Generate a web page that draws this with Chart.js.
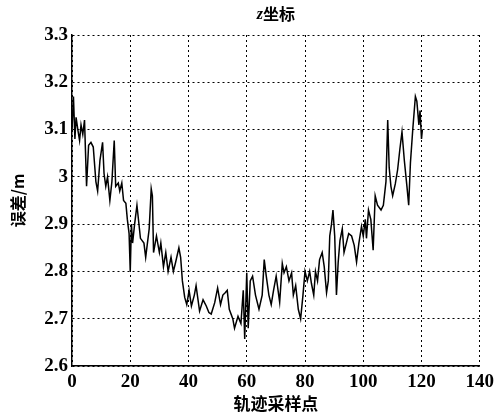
<!DOCTYPE html>
<html>
<head>
<meta charset="utf-8">
<script src="https://cdn.jsdelivr.net/npm/chart.js@4/dist/chart.umd.min.js"></script>
<style>
html,body{margin:0;padding:0;background:#fff;}
#wrap{width:499px;height:418px;}
</style>
</head>
<body>
<div id="wrap"><canvas id="c" width="499" height="418"></canvas></div>
<script>
const chartTitle = '坐标';
const chartTitleItalic = 'z';
const xAxisTitle = '轨迹采样点';
const yAxisTitle = '误差/m';
const xTicks = [0, 20, 40, 60, 80, 100, 120, 140];
const yTicks = [2.6, 2.7, 2.8, 2.9, 3.0, 3.1, 3.2, 3.3];
const yTickLabels = ['2.6', '2.7', '2.8', '2.9', '3', '3.1', '3.2', '3.3'];

const sampleX = [0,0.5,1.0,1.4,2.0,2.6,3.1,3.7,4.3,4.6,5.0,5.7,6.5,7.3,8.2,8.8,9.6,10.5,11.0,11.6,12.2,13.0,13.7,14.5,15.0,15.9,16.4,17.1,17.7,18.5,19.0,19.6,20.0,20.4,20.8,21.5,22.3,23.5,24.7,25.3,26.5,27.2,27.6,28.0,29.0,30.0,30.5,31.4,32.2,33.0,34.0,34.8,35.6,36.7,37.3,37.9,38.7,39.4,40.2,41,42,42.6,43.8,45,46.1,47,47.8,49,50,51,51.8,52.6,53.3,54,55.2,55.8,57,58,58.8,59.3,60,60.5,61.2,62,63,64.2,65.3,66,66.7,67.6,68.4,69.2,70.1,71.3,72.2,72.8,73.6,74.5,75.4,76,76.8,77.7,78.5,79.3,80,80.8,81.6,82.2,83,83.6,84.3,85,85.9,86.6,87.4,88,88.5,89.1,89.6,90.2,90.8,91.4,92,92.8,93.4,94.2,95,96,96.9,97.7,98.5,99.4,100,100.7,101.1,101.8,102.6,103.4,104.1,104.9,106.1,106.9,107.8,108.4,108.9,109.5,110.1,111,111.8,112.6,113.3,114.1,115,115.6,116.2,117,117.9,118.4,119.1,119.5,120,120.3];
const errorZ = [3.10,3.17,3.08,3.126,3.10,3.077,3.11,3.09,3.12,3.06,2.98,3.067,3.073,3.063,2.99,2.97,3.035,3.073,3.007,2.98,3.0,2.95,2.99,3.077,2.98,2.987,2.97,2.987,2.95,2.944,2.91,2.88,2.80,2.90,2.86,2.90,2.94,2.87,2.86,2.83,2.89,2.975,2.96,2.84,2.875,2.84,2.86,2.81,2.84,2.80,2.83,2.80,2.82,2.85,2.83,2.78,2.745,2.73,2.76,2.727,2.75,2.77,2.716,2.74,2.727,2.713,2.71,2.734,2.765,2.73,2.75,2.755,2.76,2.72,2.70,2.68,2.705,2.69,2.76,2.657,2.797,2.68,2.78,2.79,2.75,2.72,2.75,2.825,2.79,2.75,2.73,2.76,2.79,2.735,2.817,2.797,2.81,2.78,2.797,2.75,2.77,2.72,2.70,2.75,2.80,2.78,2.80,2.775,2.75,2.80,2.78,2.825,2.84,2.81,2.755,2.78,2.875,2.90,2.93,2.875,2.75,2.82,2.865,2.89,2.84,2.86,2.88,2.875,2.855,2.82,2.86,2.895,2.875,2.91,2.87,2.93,2.91,2.845,2.96,2.94,2.93,2.94,2.99,3.12,3.02,2.98,2.96,2.985,3.015,3.06,3.095,3.035,2.98,2.94,3.03,3.10,3.17,3.16,3.11,3.14,3.08,3.10];

const points = sampleX.map((x, i) => ({x: x, y: errorZ[i]}));

const titlePlugin = {
  id: 'titles',
  afterDraw(chart) {
    const ctx = chart.ctx;
    const a = chart.chartArea;
    const cx = (a.left + a.right) / 2;
    ctx.save();
    ctx.fillStyle = '#000';
    ctx.textBaseline = 'middle';
    ctx.font = 'italic bold 16px "Liberation Serif"';
    const zw = ctx.measureText(chartTitleItalic).width;
    ctx.font = 'bold 16px "Noto Sans CJK SC"';
    const tw = ctx.measureText(chartTitle).width;
    const start = cx - (zw + tw) / 2;
    ctx.textAlign = 'left';
    ctx.font = 'italic bold 16px "Liberation Serif"';
    ctx.fillText(chartTitleItalic, start, 15);
    ctx.font = 'bold 16px "Noto Sans CJK SC"';
    ctx.fillText(chartTitle, start + zw, 14);
    ctx.textAlign = 'center';
    ctx.font = 'bold 17px "Noto Sans CJK SC"';
    ctx.fillText(xAxisTitle, cx, 404);
    ctx.translate(18, (a.top + a.bottom) / 2);
    ctx.rotate(-Math.PI / 2);
    ctx.font = 'bold 16px "Noto Sans CJK SC"';
    ctx.fillText(yAxisTitle, 0, 0);
    ctx.restore();
  }
};

new Chart(document.getElementById('c'), {
  type: 'line',
  data: {
    datasets: [{
      data: points,
      borderColor: '#000',
      borderWidth: 1.5,
      pointRadius: 0,
      tension: 0,
      fill: false
    }]
  },
  options: {
    responsive: false,
    animation: false,
    events: [],
    layout: { padding: { top: 35, right: 19, left: 0, bottom: 0 } },
    plugins: { legend: { display: false }, title: { display: false }, tooltip: { enabled: false } },
    scales: {
      x: {
        type: 'linear',
        min: 0, max: 140,
        afterBuildTicks: s => { s.ticks = xTicks.map(v => ({value: v})); },
        afterFit: s => { s.height = 52; },
        grid: { color: '#000', lineWidth: 1, drawTicks: false },
        border: { color: '#000', width: 1.5, dash: [2, 3] },
        ticks: { color: '#000', padding: 5, font: { family: 'Liberation Serif', weight: 'bold', size: 19 }, maxRotation: 0, autoSkip: false }
      },
      y: {
        type: 'linear',
        min: 2.6, max: 3.3,
        afterBuildTicks: s => { s.ticks = yTicks.map(v => ({value: v})); },
        afterFit: s => { s.width = 72; },
        grid: { color: '#000', lineWidth: 1, drawTicks: false },
        border: { color: '#000', width: 1.5, dash: [2, 3] },
        ticks: { color: '#000', padding: 4, font: { family: 'Liberation Serif', weight: 'bold', size: 19 },
          callback: (v, i) => yTickLabels[yTicks.findIndex(t => Math.abs(t - v) < 1e-6)] }
      }
    }
  },
  plugins: [titlePlugin]
});
</script>
</body>
</html>
